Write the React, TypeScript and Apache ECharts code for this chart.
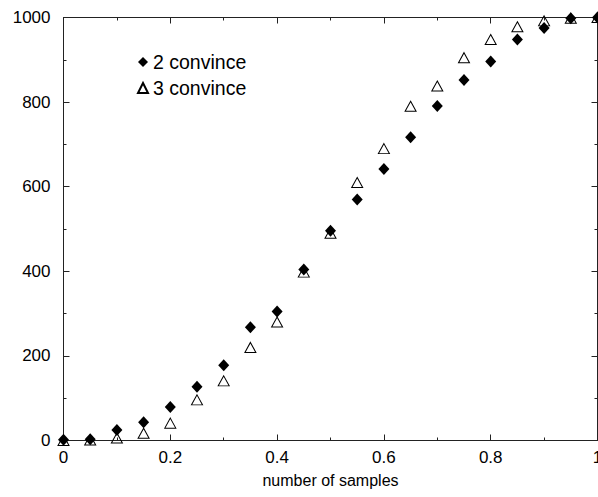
import React, { useEffect, useRef } from "react";
import * as echarts from "echarts";

const xValues = [0, 0.05, 0.1, 0.15, 0.2, 0.25, 0.3, 0.35, 0.4, 0.45, 0.5, 0.55, 0.6, 0.65, 0.7, 0.75, 0.8, 0.85, 0.9, 0.95, 1.0];
const convince2 = [2, 3, 25, 43, 79, 127, 178, 268, 305, 404, 496, 570, 642, 717, 791, 852, 896, 948, 975, 998, 1000];
const convince3 = [0, 1, 6, 17, 41, 96, 141, 220, 280, 398, 490, 610, 690, 790, 838, 905, 948, 978, 992, 998, 1000];
const xTickLabels = ["0", "0.2", "0.4", "0.6", "0.8", "1"];
const seriesNames = ["2 convince", "3 convince"];
const xAxisName = "number of samples";

const FONT = "'Liberation Sans', Arial, Helvetica, sans-serif";
const AXIS_COLOR = "#222";

function tickCommon() {
  return {
    axisLine: { show: true, onZero: false, lineStyle: { color: AXIS_COLOR, width: 1, type: "solid" } },
    axisTick: { show: true, inside: true, length: 6, lineStyle: { color: AXIS_COLOR, width: 1 } },
    minorTick: { show: true, splitNumber: 2, length: 3, lineStyle: { color: AXIS_COLOR, width: 1 } },
    splitLine: { show: false },
  };
}

export default function App() {
  const ref = useRef<HTMLDivElement>(null);
  useEffect(() => {
    if (!ref.current) return;
    const chart = echarts.init(ref.current, null, { renderer: "svg" });
    chart.setOption({
      animation: false,
      backgroundColor: "#fff",
      grid: {
        left: 63.5,
        right: 0.5,
        top: 17.5,
        bottom: 56.5,
        containLabel: false,
        outerBoundsMode: "none",
      },
      legend: {
        orient: "vertical",
        left: 137,
        top: 52,
        padding: 0,
        itemWidth: 10,
        itemHeight: 10,
        itemGap: 6,
        textStyle: { fontFamily: FONT, fontSize: 19.5, color: "#000", lineHeight: 20 },
        data: seriesNames,
      },
      xAxis: [
        {
          type: "value",
          min: 0,
          max: 1,
          interval: 0.2,
          position: "bottom",
          name: xAxisName,
          nameLocation: "middle",
          nameGap: 32,
          nameTextStyle: { fontFamily: FONT, fontSize: 16, color: "#000" },
          axisLabel: {
            fontFamily: FONT,
            fontSize: 17,
            color: "#000",
            margin: 8,
            showMinLabel: true,
            showMaxLabel: true,
            formatter: (v: number) => xTickLabels[Math.round(v / 0.2)] ?? String(v),
          },
          ...tickCommon(),
        },
        {
          type: "value",
          min: 0,
          max: 1,
          interval: 0.2,
          position: "top",
          axisLabel: { show: false },
          ...tickCommon(),
        },
      ],
      yAxis: [
        {
          type: "value",
          min: 0,
          max: 1000,
          interval: 200,
          position: "left",
          axisLabel: {
            fontFamily: FONT,
            fontSize: 17,
            color: "#000",
            margin: 13,
            formatter: (v: number) => String(v),
          },
          ...tickCommon(),
        },
        {
          type: "value",
          min: 0,
          max: 1000,
          interval: 200,
          position: "right",
          axisLabel: { show: false },
          ...tickCommon(),
        },
      ],
      series: [
        {
          name: seriesNames[0],
          type: "scatter",
          xAxisIndex: 0,
          yAxisIndex: 0,
          symbol: "diamond",
          symbolSize: [11, 12],
          itemStyle: { color: "#000", opacity: 1 },
          data: xValues.map((x, i) => [x, convince2[i]]),
          z: 3,
        },
        {
          name: seriesNames[1],
          type: "scatter",
          xAxisIndex: 0,
          yAxisIndex: 0,
          symbol: "triangle",
          symbolSize: [11, 10],
          itemStyle: { color: "transparent", borderColor: "#000", borderWidth: 1, opacity: 1 },
          data: xValues.map((x, i) => [x, convince3[i]]),
          z: 2,
        },
      ],
    });
    return () => chart.dispose();
  }, []);
  return (
    <div
      ref={ref}
      style={{ position: "absolute", left: 0, top: 0, width: 598, height: 497 }}
    />
  );
}
